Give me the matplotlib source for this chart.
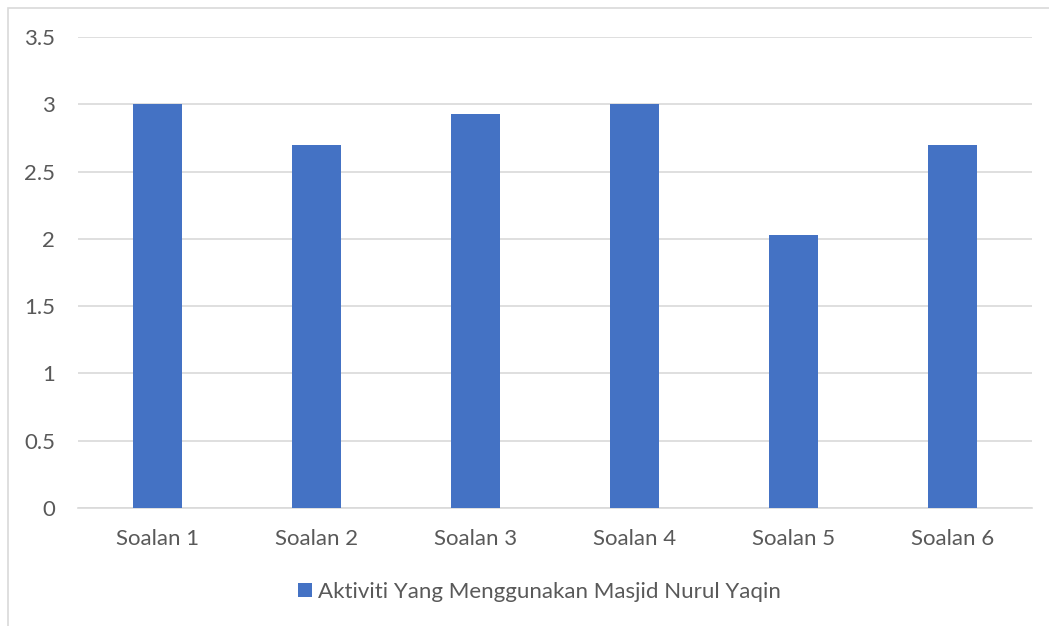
import matplotlib
matplotlib.use("Agg")
import matplotlib.pyplot as plt
from matplotlib.patches import Rectangle

categories = ["Soalan 1", "Soalan 2", "Soalan 3", "Soalan 4", "Soalan 5", "Soalan 6"]
values = [3.0, 2.7, 2.93, 3.0, 2.03, 2.7]
series_name = "Aktiviti Yang Menggunakan Masjid Nurul Yaqin"
yticks = [0, 0.5, 1, 1.5, 2, 2.5, 3, 3.5]
ytick_labels = ["0", "0.5", "1", "1.5", "2", "2.5", "3", "3.5"]

plt.rcParams["font.family"] = ["Lato", "DejaVu Sans"]
text_color = "#595959"
grid_color = "#d9d9d9"
bar_color = "#4472c4"

fig = plt.figure(figsize=(10.49, 6.26), dpi=100)
ax = fig.add_axes([78 / 1049, 1 - 508 / 626, (1032 - 78) / 1049, (508 - 37) / 626])

# outer chart border (only left/top visible in the reference)
fig.patches.append(Rectangle((8 / 1049, -0.1), 1.2, (626 - 8) / 626 + 0.1,
                             transform=fig.transFigure, fill=False,
                             edgecolor=grid_color, linewidth=1.2))

x = range(len(categories))
ax.bar(x, values, width=0.31, color=bar_color, label=series_name, zorder=3)

ax.set_xlim(-0.5, len(categories) - 0.5)
ax.set_ylim(0, 3.5)
ax.set_yticks(yticks)
ax.set_yticklabels(ytick_labels)
ax.set_xticks(list(x))
ax.set_xticklabels(categories)

ax.grid(axis="y", color=grid_color, linewidth=1.2, zorder=0)
ax.set_axisbelow(True)
for s in ["top", "right", "left"]:
    ax.spines[s].set_visible(False)
ax.spines["bottom"].set_color(grid_color)
ax.spines["bottom"].set_linewidth(1.2)

ax.tick_params(axis="both", length=0, colors=text_color, labelsize=16)
ax.tick_params(axis="y", pad=16.5)
ax.tick_params(axis="x", pad=15)

leg = ax.legend(loc="center", bbox_to_anchor=(0.484, -0.178), frameon=False,
                fontsize=16, handlelength=0.6, handleheight=0.6,
                handletextpad=0.3)
for t in leg.get_texts():
    t.set_color(text_color)

fig.savefig("out.png", dpi=100)
